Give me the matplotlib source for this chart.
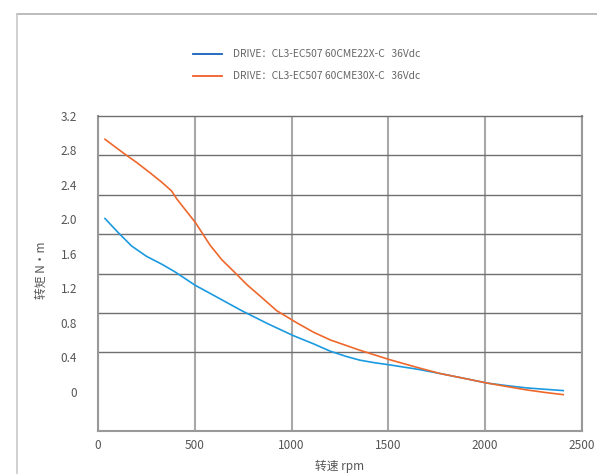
import matplotlib
matplotlib.use("Agg")
import matplotlib.pyplot as plt
from matplotlib.lines import Line2D

plt.rcParams['font.family'] = ['Noto Sans CJK SC', 'DejaVu Sans']

# Data
orange_rpm = [36, 131, 200, 269, 330, 380, 406, 455, 504, 579, 640, 708, 770, 837, 923, 1026, 1113, 1200, 1353, 1508, 1650, 1767, 1900, 2008, 2110, 2214, 2310, 2403]
orange_torque = [2.93, 2.77, 2.66, 2.54, 2.43, 2.33, 2.24, 2.10, 1.96, 1.70, 1.53, 1.38, 1.24, 1.11, 0.94, 0.80, 0.69, 0.60, 0.48, 0.37, 0.28, 0.21, 0.15, 0.10, 0.06, 0.02, -0.01, -0.035]
blue_rpm = [36, 105, 174, 251, 329, 398, 501, 604, 742, 880, 1009, 1113, 1199, 1280, 1353, 1430, 1508, 1650, 1767, 1900, 2008, 2110, 2214, 2310, 2403]
blue_torque = [2.01, 1.845, 1.69, 1.57, 1.48, 1.39, 1.236, 1.11, 0.94, 0.785, 0.65, 0.555, 0.47, 0.41, 0.365, 0.335, 0.31, 0.26, 0.21, 0.15, 0.10, 0.07, 0.043, 0.027, 0.012]
x_ticks = [0, 500, 1000, 1500, 2000, 2500]
y_ticks = [0, 0.4, 0.8, 1.2, 1.6, 2.0, 2.4, 2.8, 3.2]
y_ticklabels = ['0', '0.4', '0.8', '1.2', '1.6', '2.0', '2.4', '2.8', '3.2']
legend_labels = ['DRIVE：CL3-EC507 60CME22X-C   36Vdc', 'DRIVE：CL3-EC507 60CME30X-C   36Vdc']

W, H = 597, 474
fig = plt.figure(figsize=(W / 100, H / 100), dpi=100)
ax = fig.add_axes([98 / W, 1 - 431 / H, (582 - 98) / W, (431 - 116) / H])

ax.plot(blue_rpm, blue_torque, color='#1b9ae0', lw=1.2, zorder=3)
ax.plot(orange_rpm, orange_torque, color='#ee682c', lw=1.2, zorder=3)

step = 3.2 / 7
ax.set_xlim(0, 2500)
ax.set_ylim(-step, 3.2)

ax.set_xticks(x_ticks)
ax.set_yticks(y_ticks)
ax.set_yticklabels(y_ticklabels)
ax.set_yticks([k * step for k in range(-1, 8)], minor=True)
ax.tick_params(axis='both', which='both', length=0, labelsize=8.5, colors='#555555')
ax.tick_params(axis='y', pad=15)
ax.tick_params(axis='x', pad=6)
ax.grid(axis='x', which='major', color='#a8a8a8', lw=1.5)
ax.grid(axis='y', which='minor', color='#707070', lw=1.0)
ax.set_axisbelow(True)
for s in ['left', 'right', 'bottom']:
    ax.spines[s].set_color('#999999')
    ax.spines[s].set_linewidth(1.5)
ax.spines['top'].set_color('#707070')
ax.spines['top'].set_linewidth(1.0)

fig.text(41 / W, 1 - 270 / H, '转矩 N·m', rotation=90, ha='center', va='center', fontsize=8.5, color='#555555')
fig.text(340 / W, 1 - 466 / H, '转速 rpm', ha='center', va='center', fontsize=8.5, color='#555555')

# legend
leg_colors = ['#1560bd', '#f0602a']
for i, (lab, c) in enumerate(zip(legend_labels, leg_colors)):
    yy = 1 - (54 + 22 * i) / H
    fig.add_artist(Line2D([193 / W, 222 / W], [yy, yy], color=c, lw=1.3, transform=fig.transFigure))
    fig.text(233 / W, yy, lab, ha='left', va='center', fontsize=7.4, color='#666666')

# outer frame
fig.add_artist(Line2D([17 / W, 1], [1 - 14 / H, 1 - 14 / H], color='#b0b0b0', lw=1.2, transform=fig.transFigure))
fig.add_artist(Line2D([17 / W, 17 / W], [1 - 14 / H, 0], color='#c8c8c8', lw=1.2, transform=fig.transFigure))

fig.savefig('out.png', dpi=100, facecolor='white')
